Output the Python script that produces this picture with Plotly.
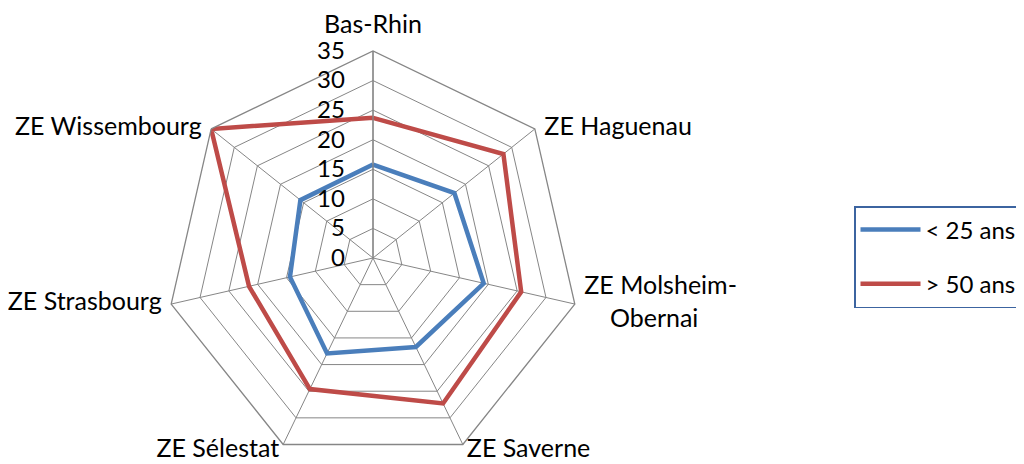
import plotly.graph_objects as go

categories = ["Bas-Rhin", "ZE Haguenau", "ZE Molsheim-<br>Obernai", "ZE Saverne",
              "ZE Sélestat", "ZE Strasbourg", "ZE Wissembourg"]
moins_25 = [15.8, 17.6, 19.2, 16.7, 17.9, 14.4, 15.7]
plus_50 = [23.7, 28.2, 25.7, 27.3, 24.6, 21.5, 35.0]
radial_ticks = [0, 5, 10, 15, 20, 25, 30, 35]

GRID = "#868686"
FONT = "Lato"
FS = 24
LFS = 25
W, H = 1024, 464

# main radar area (pixels)
X0, X1, Y0, Y1 = 158, 572, 7, 421
# label ring: same centre, slightly larger
PAD = (X1 - X0) * 0.045 / 2

GAP = "\u00a0\u2009"  # small horizontal gap between ring and side labels
# label placement: (textposition, on enlarged ring?)
placement = {
    "Bas-Rhin": ("top center", True),
    "ZE Haguenau": ("middle right", False),
    "ZE Molsheim-<br>Obernai": ("middle right", False),
    "ZE Saverne": ("middle right", True),
    "ZE Sélestat": ("middle left", True),
    "ZE Strasbourg": ("middle left", False),
    "ZE Wissembourg": ("middle left", False),
}


def label(c, pos, outer):
    lines = c.split("<br>")
    if len(lines) == 2:  # centre the second line under the first
        lines[1] = "\u00a0" * 4 + lines[1]
    if not outer:
        if pos == "middle right":
            lines = [GAP + s for s in lines]
        elif pos == "middle left":
            lines = [s + GAP for s in lines]
    return "<br>".join(lines)


fig = go.Figure()
fig.add_trace(go.Scatterpolar(
    r=moins_25 + moins_25[:1], theta=categories + categories[:1],
    mode="lines", name="< 25 ans", legendgroup="a",
    line=dict(color="#4a7ebb", width=4.5)))
fig.add_trace(go.Scatterpolar(
    r=plus_50 + plus_50[:1], theta=categories + categories[:1],
    mode="lines", name="> 50 ans", legendgroup="b",
    line=dict(color="#be4b48", width=4.5)))

for outer, subplot in ((False, "polar"), (True, "polar2")):
    cats = [c for c in categories if placement[c][1] == outer]
    pos = [placement[c][0] for c in cats]
    fig.add_trace(go.Scatterpolar(
        r=[radial_ticks[-1]] * len(cats), theta=cats,
        mode="text", text=[label(c, p, outer) for c, p in zip(cats, pos)],
        textposition=pos,
        textfont=dict(family=FONT, size=LFS, color="black"),
        cliponaxis=False, showlegend=False, hoverinfo="skip",
        subplot=subplot))

hidden_radial = dict(range=[0, radial_ticks[-1]], visible=False, showgrid=False)
hidden_angular = dict(direction="clockwise", rotation=90, visible=False,
                      showgrid=False, showline=False, categoryorder="array",
                      categoryarray=categories)

fig.update_layout(
    width=W, height=H,
    margin=dict(l=0, r=0, t=0, b=0),
    paper_bgcolor="white",
    font=dict(family=FONT, size=FS, color="black"),
    polar=dict(
        domain=dict(x=[X0 / W, X1 / W], y=[Y0 / H, Y1 / H]),
        bgcolor="white",
        gridshape="linear",
        radialaxis=dict(
            range=[0, radial_ticks[-1]], tickvals=radial_ticks, angle=90,
            tickangle=90, side="counterclockwise", showline=True,
            linecolor=GRID, linewidth=1.3, gridcolor=GRID, gridwidth=1.3,
            ticks="outside", ticklen=19, tickcolor="rgba(0,0,0,0)",
            tickfont=dict(family=FONT, size=FS, color="black")),
        angularaxis=dict(
            direction="clockwise", rotation=90, showline=True,
            linecolor=GRID, linewidth=1.3, gridcolor=GRID, gridwidth=1.3,
            ticks="", showticklabels=False, categoryorder="array",
            categoryarray=categories),
    ),
    polar2=dict(
        domain=dict(x=[(X0 - PAD) / W, (X1 + PAD) / W],
                    y=[max(0, Y0 - PAD) / H, (Y1 + PAD + max(0, PAD - Y0)) / H]),
        bgcolor="rgba(0,0,0,0)",
        gridshape="linear",
        radialaxis=hidden_radial,
        angularaxis=hidden_angular,
    ),
    legend=dict(
        x=846 / W, y=1 - 198 / H, xanchor="left", yanchor="top",
        bordercolor="#3c64a0", borderwidth=1.5, bgcolor="white",
        itemwidth=60,
        font=dict(family=FONT, size=FS), tracegroupgap=20),
    showlegend=True,
)

fig.write_html("out.html")
